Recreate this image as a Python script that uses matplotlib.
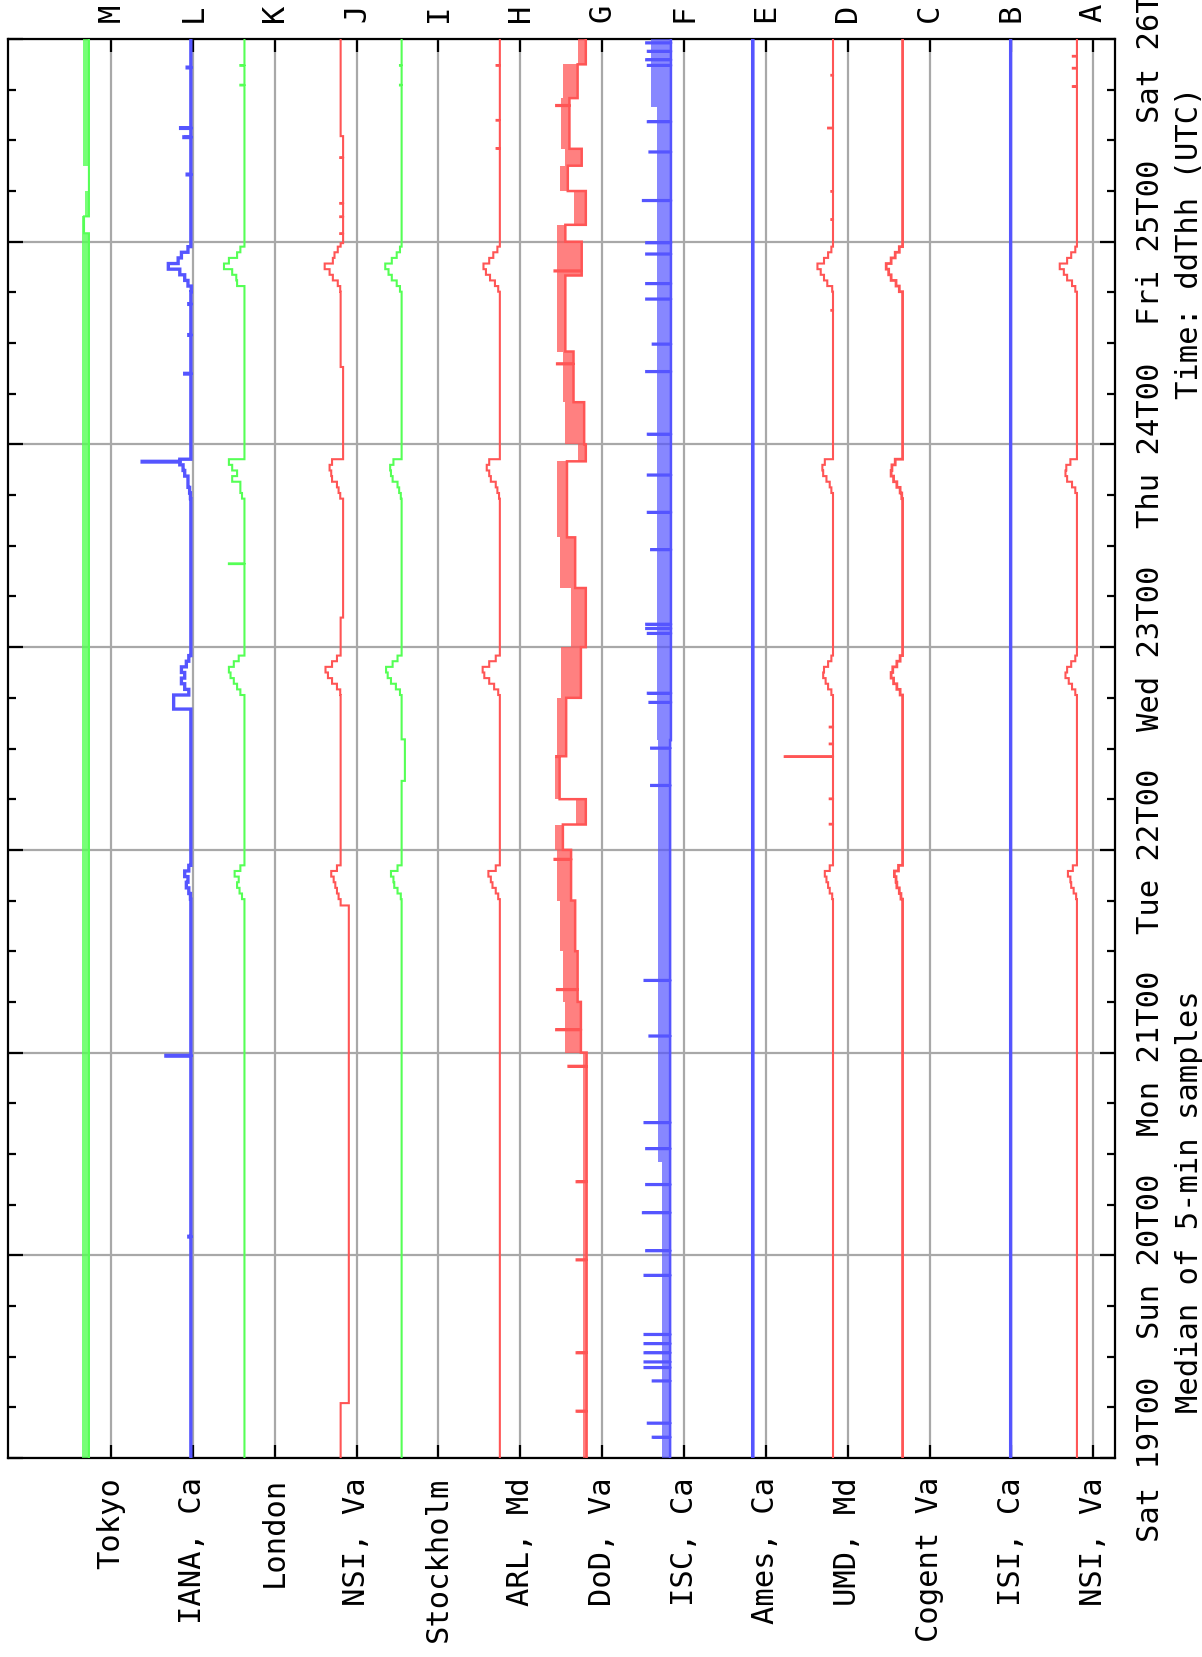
import numpy as np
import matplotlib
matplotlib.use("Agg")
import matplotlib.pyplot as plt

# server rows, left to right (rotated gnuplot chart)
servers = ["Tokyo", "IANA, Ca", "London", "NSI, Va", "Stockholm", "ARL, Md", "DoD, Va",
           "ISC, Ca", "Ames, Ca", "UMD, Md", "Cogent Va", "ISI, Ca", "NSI, Va"]
letters = ["M", "L", "K", "J", "I", "H", "G", "F", "E", "D", "C", "B", "A"]
day_labels = ["Sat 19T00", "Sun 20T00", "Mon 21T00", "Tue 22T00", "Wed 23T00",
              "Thu 24T00", "Fri 25T00", "Sat 26T00"]

RED, GREEN, BLUE = "#ff5555", "#55ff55", "#5555ff"
colors = [GREEN, BLUE, GREEN, RED, GREEN, RED, RED, BLUE, BLUE, RED, RED, BLUE, RED]
widths = [1.5, 2.4, 1.5, 1.5, 1.5, 1.5, 1.8, 1.8, 2.6, 1.5, 2.0, 2.4, 1.5]

# hours since Sat 19T00; offsets are in row units (leftwards = slower)
base = {
    "L": [(0, 88.7, 0.025), (88.7, 92.0, 0.235), (92.0, 168, 0.025)],
    "K": [(0, 168, 0.37)],
    "J": [(0, 6.5, 0.195), (6.5, 65.4, 0.095), (65.4, 99.5, 0.195), (99.5, 129.2, 0.165),
          (129.2, 143.8, 0.195), (143.8, 156.5, 0.165), (156.5, 168, 0.195)],
    "I": [(0, 80.2, 0.45), (80.2, 85.1, 0.41), (85.1, 168, 0.45)],
    "H": [(0, 168, 0.25)],
    "E": [(0, 168, 0.16)],
    "D": [(0, 168, 0.18)],
    "C": [(0, 168, 0.33)],
    "B": [(0, 168, 0.01)],
    "A": [(0, 168, 0.20)],
}

# noisy rows: (start, end, low, high)
bands = {
    "M": [(0, 145, 0.27, 0.35), (145, 147, 0.33, 0.35), (147, 150, 0.27, 0.32),
          (150, 153, 0.27, 0.28), (153, 168, 0.27, 0.34)],
    "G": [(0, 48, 0.19, 0.24), (48, 54, 0.26, 0.45), (54, 60, 0.30, 0.48), (60, 66, 0.33, 0.52),
          (66, 72, 0.38, 0.55), (72, 75, 0.48, 0.58), (75, 78, 0.20, 0.32), (78, 83, 0.52, 0.58),
          (83, 90, 0.44, 0.55), (90, 96, 0.26, 0.50), (96, 103, 0.20, 0.38), (103, 109, 0.33, 0.52),
          (109, 118, 0.43, 0.55), (118, 120, 0.20, 0.30), (120, 125, 0.22, 0.45), (125, 131, 0.35, 0.48),
          (131, 140, 0.45, 0.55), (140, 144, 0.25, 0.55), (144, 146, 0.45, 0.55), (146, 150, 0.20, 0.35),
          (150, 153, 0.42, 0.52), (153, 155, 0.25, 0.45), (155, 161, 0.40, 0.50), (161, 165, 0.30, 0.48),
          (165, 168, 0.20, 0.30)],
    "F": [(0, 35, 0.17, 0.27), (35, 85, 0.17, 0.32), (85, 160, 0.16, 0.33), (160, 168, 0.16, 0.40)],
}
band_alpha = {"M": 0.8, "G": 0.75, "F": 0.7}

# evening slowdowns, 40-minute steps starting at these hours
bump_start = {"Tue": 66.2, "Wed": 90.3, "Thu": 113.6, "Fri": 138.1}
bumps = {
    "L": {"Tue": [0.03, 0.05, 0.08, 0.06, 0.10, 0.05], "Wed": [0.05, 0.10, 0.14, 0.10, 0.14, 0.08, 0.05],
          "Thu": [0.03, 0.04, 0.06, 0.06, 0.10, 0.12, 0.16], "Fri": [0.02, 0.06, 0.10, 0.16, 0.30, 0.18, 0.14, 0.06]},
    "K": {"Tue": [0.40, 0.43, 0.46, 0.44, 0.49, 0.42], "Wed": [0.42, 0.46, 0.50, 0.54, 0.56, 0.50, 0.44],
          "Thu": [0.40, 0.42, 0.42, 0.52, 0.46, 0.52, 0.56], "Fri": [0.37, 0.46, 0.47, 0.52, 0.62, 0.56, 0.46, 0.42]},
    "J": {"Tue": [0.22, 0.24, 0.26, 0.28, 0.31, 0.24], "Wed": [0.20, 0.24, 0.30, 0.35, 0.38, 0.30, 0.24],
          "Thu": [0.20, 0.22, 0.24, 0.30, 0.31, 0.33, 0.30], "Fri": [0.20, 0.23, 0.29, 0.33, 0.39, 0.29, 0.27, 0.23]},
    "I": {"Tue": [0.46, 0.50, 0.54, 0.55, 0.58, 0.50], "Wed": [0.47, 0.52, 0.58, 0.62, 0.64, 0.56, 0.50],
          "Thu": [0.46, 0.48, 0.50, 0.56, 0.58, 0.59, 0.55], "Fri": [0.47, 0.51, 0.57, 0.61, 0.65, 0.57, 0.51, 0.47]},
    "H": {"Tue": [0.27, 0.30, 0.34, 0.36, 0.39, 0.30], "Wed": [0.27, 0.32, 0.38, 0.44, 0.46, 0.38, 0.30],
          "Thu": [0.26, 0.28, 0.30, 0.36, 0.38, 0.41, 0.38], "Fri": [0.27, 0.31, 0.37, 0.42, 0.45, 0.38, 0.33, 0.28]},
    "D": {"Tue": [0.19, 0.22, 0.24, 0.26, 0.28, 0.22], "Wed": [0.20, 0.24, 0.27, 0.30, 0.29, 0.24, 0.20],
          "Thu": [0.18, 0.20, 0.22, 0.26, 0.30, 0.31, 0.28], "Fri": [0.19, 0.25, 0.29, 0.33, 0.37, 0.29, 0.24, 0.20]},
    "C": {"Tue": [0.35, 0.37, 0.40, 0.41, 0.43, 0.38], "Wed": [0.36, 0.40, 0.44, 0.47, 0.45, 0.40, 0.36],
          "Thu": [0.34, 0.36, 0.40, 0.44, 0.47, 0.46, 0.42], "Fri": [0.37, 0.41, 0.47, 0.50, 0.53, 0.47, 0.42, 0.37]},
    "A": {"Tue": [0.21, 0.24, 0.27, 0.28, 0.31, 0.25], "Wed": [0.22, 0.26, 0.30, 0.34, 0.32, 0.27, 0.22],
          "Thu": [0.20, 0.22, 0.26, 0.32, 0.34, 0.33, 0.28], "Fri": [0.22, 0.26, 0.32, 0.36, 0.41, 0.32, 0.27, 0.22]},
}

# single 5-min samples that stick out: (hour, offset)
spikes = {
    "L": [(164.6, 0.07), (157.4, 0.15), (156.3, 0.11), (151.9, 0.07), (136.6, 0.05), (132.9, 0.05),
          (128.3, 0.10), (117.9, 0.62), (47.6, 0.33), (26.2, 0.05)],
    "K": [(164.8, 0.42), (162.5, 0.42), (105.8, 0.56)],
    "J": [(153.9, 0.20), (148.5, 0.20), (146.9, 0.20), (144.9, 0.20)],
    "I": [(164.8, 0.47), (162.5, 0.47)],
    "H": [(164.8, 0.29), (158.3, 0.29), (155.0, 0.29)],
    "G": [(160.1, 0.56), (140.5, 0.58), (129.5, 0.55), (83.0, 0.56), (70.8, 0.58), (55.4, 0.55),
          (50.7, 0.56), (46.3, 0.41), (32.7, 0.31), (23.4, 0.31), (12.4, 0.31), (5.5, 0.31)],
    "F": [(167.5, 0.46), (166.5, 0.44), (165.5, 0.46), (164.8, 0.44), (158.2, 0.44), (154.6, 0.42),
          (148.8, 0.50), (143.8, 0.46), (142.5, 0.46), (139.0, 0.46), (137.2, 0.46), (131.8, 0.38),
          (128.6, 0.46), (121.2, 0.44), (116.3, 0.44), (111.9, 0.44), (107.5, 0.40), (98.7, 0.46),
          (98.2, 0.46), (97.6, 0.44), (90.5, 0.44), (89.4, 0.42), (84.0, 0.40), (79.6, 0.40),
          (56.5, 0.48), (49.9, 0.42), (39.7, 0.48), (36.6, 0.46), (32.3, 0.46), (29.0, 0.50),
          (24.5, 0.46), (21.6, 0.48), (14.6, 0.48), (13.5, 0.48), (12.4, 0.48), (11.3, 0.48),
          (10.7, 0.48), (9.1, 0.38), (4.1, 0.44), (2.4, 0.38)],
    "D": [(163.7, 0.20), (157.4, 0.24), (149.9, 0.20), (146.6, 0.20), (135.8, 0.20), (86.5, 0.22),
          (84.5, 0.22), (83.0, 0.77), (78.0, 0.22), (75.0, 0.22)],
    "A": [(165.9, 0.25), (164.5, 0.25), (162.3, 0.25)],
}

SPH = 12  # samples per hour
edges = np.arange(0, 168 * SPH + 1) / SPH


def build_series(key):
    vals = np.full(len(edges) - 1, np.nan)
    for t0, t1, v in base.get(key, []):
        vals[int(round(t0 * SPH)):int(round(t1 * SPH))] = v
    for t0, t1, lo, hi in bands.get(key, []):
        vals[int(round(t0 * SPH)):int(round(t1 * SPH))] = lo
    for day, seq in bumps.get(key, {}).items():
        i0 = int(round(bump_start[day] * SPH))
        for k, v in enumerate(seq):
            vals[i0 + k * 8:i0 + (k + 1) * 8] = v
    for t, v in spikes.get(key, []):
        vals[int(round(t * SPH))] = v
    return vals


W, H = 1202, 1658
fig = plt.figure(figsize=(W / 100, H / 100), dpi=100)
plt.rcParams['font.family'] = ['DejaVu Sans Mono']
left, right, top, bottom = 8.3, 1115, 40, 1459
ax = fig.add_axes([left / W, 1 - bottom / H, (right - left) / W, (bottom - top) / H])

for i, key in enumerate(letters):
    if key in bands:
        segs = bands[key]
        ys = [s[0] for s in segs] + [segs[-1][1]]
        lo = [i - s[2] for s in segs] + [i - segs[-1][2]]
        hi = [i - s[3] for s in segs] + [i - segs[-1][3]]
        ax.fill_betweenx(ys, lo, hi, step='post', color=colors[i], lw=0,
                         alpha=band_alpha[key], zorder=3)
    vals = build_series(key)
    ax.stairs(i - vals, edges, orientation='horizontal', baseline=None,
              color=colors[i], lw=widths[i], zorder=4)

ax.set_xlim(-1.255, 12.265)
ax.set_ylim(0, 168)

ax.set_xticks(range(len(servers)))
ax.set_xticklabels(servers, rotation=90, fontsize=22)
ax.tick_params(axis='x', direction='in', top=True, bottom=True, length=9.5, width=1.6, pad=13)

ax.set_yticks(np.arange(0, 169, 24))
ax.set_yticklabels(day_labels, rotation=90, va='center', fontsize=22)
ax.set_yticks(np.arange(0, 169, 6), minor=True)
ax.tick_params(axis='y', which='both', direction='in', left=True, right=True,
               labelleft=False, labelright=True, width=1.6)
ax.tick_params(axis='y', which='major', length=11, pad=15)
ax.tick_params(axis='y', which='minor', length=5.5)

ax.grid(True, which='major', color='#a8a8a8', lw=1.6)
ax.set_axisbelow(True)
for s in ax.spines.values():
    s.set_linewidth(1.6)

for i, l in enumerate(letters):
    ax.annotate(l, xy=(i, 1), xycoords=('data', 'axes fraction'), xytext=(0, 27),
                textcoords='offset pixels', rotation=90, ha='center', va='center', fontsize=22)

ax.text(1.0669, 0.181, "Median of 5-min samples", transform=ax.transAxes, rotation=90,
        ha='center', va='center', fontsize=22)
ax.text(1.0669, 0.857, "Time: ddThh (UTC)", transform=ax.transAxes, rotation=90,
        ha='center', va='center', fontsize=22)

fig.savefig("out.png", dpi=100)
